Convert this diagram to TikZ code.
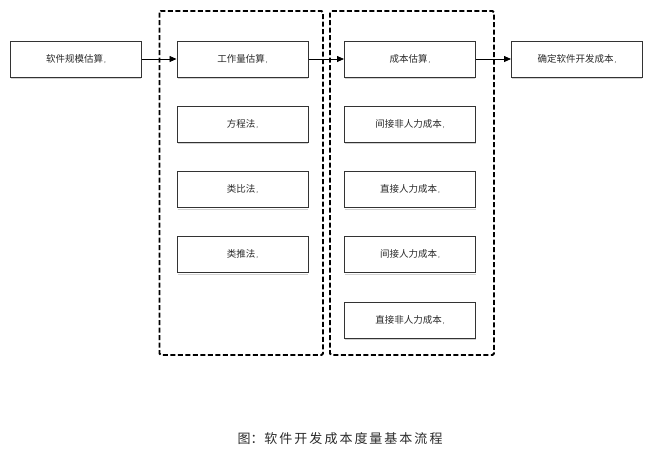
\documentclass[tikz,border=0pt]{standalone}
\usepackage{fontspec}
\newfontfamily\cjk{Noto Sans CJK SC}
\usetikzlibrary{arrows.meta}
\definecolor{txt}{HTML}{2A2A2A}
\definecolor{edge}{HTML}{333333}
\newcommand{\parmk}{{\fontsize{6}{6}\selectfont\,,}}
\tikzset{
  box/.style={draw=edge, line width=1pt, fill=white, minimum width=131pt, minimum height=36pt,
    inner sep=0pt, font=\cjk\fontsize{9.5}{11}\selectfont, text=txt},
  shadowline/.style={draw=black!18, line width=1.6pt},
  grp/.style={draw=black, line width=1.9pt, dash pattern=on 5pt off 2.5pt, rounded corners=1.5pt},
  conn/.style={draw=black, line width=0.8pt, -{Triangle[length=7pt,width=6pt]}}
}
\begin{document}
\begin{tikzpicture}[x=1pt,y=-1pt]
\useasboundingbox[fill=white] (0,0) rectangle (663,453);
% dashed groups
\draw[grp] (159.5,11) rectangle (323,355);
\draw[grp] (330,11) rectangle (494,355);
% shadows
\foreach \x in {76,242.5,410,577}{\draw[shadowline] (\x-65,78.5) -- (\x+65,78.5);}
\foreach \y in {143.5,209.5,274.5}{\draw[shadowline] (177.5,\y) -- (307.5,\y); \draw[shadowline] (344.5,\y) -- (475.5,\y);}
\draw[shadowline] (344.5,339.5) -- (475.5,339.5);
% boxes
\node[box] (size) at (76,59) {软件规模估算\parmk};
\node[box] (work) at (242.5,59) {工作量估算\parmk};
\node[box] (eq) at (242.5,124) {方程法\parmk};
\node[box] (ana) at (242.5,189.5) {类比法\parmk};
\node[box] (ext) at (242.5,254.5) {类推法\parmk};
\node[box] (cost) at (410,59) {成本估算\parmk};
\node[box] (inr) at (410,124) {间接非人力成本\parmk};
\node[box] (dh) at (410,189.5) {直接人力成本\parmk};
\node[box] (ih) at (410,254.5) {间接人力成本\parmk};
\node[box] (dnr) at (410,320) {直接非人力成本\parmk};
\node[box] (final) at (577,59) {确定软件开发成本\parmk};
% connectors
\draw[conn] (size) -- (work);
\draw[conn] (work) -- (cost);
\draw[conn] (cost) -- (final);
% caption
\node[font=\cjk\fontsize{13}{15}\selectfont, text=txt] (cap) at (340,439) {图：\kern1pt 软\kern2pt 件\kern2pt 开\kern2pt 发\kern2pt 成\kern2pt 本\kern2pt 度\kern2pt 量\kern2pt 基\kern2pt 本\kern2pt 流\kern2pt 程};
\end{tikzpicture}
\end{document}
